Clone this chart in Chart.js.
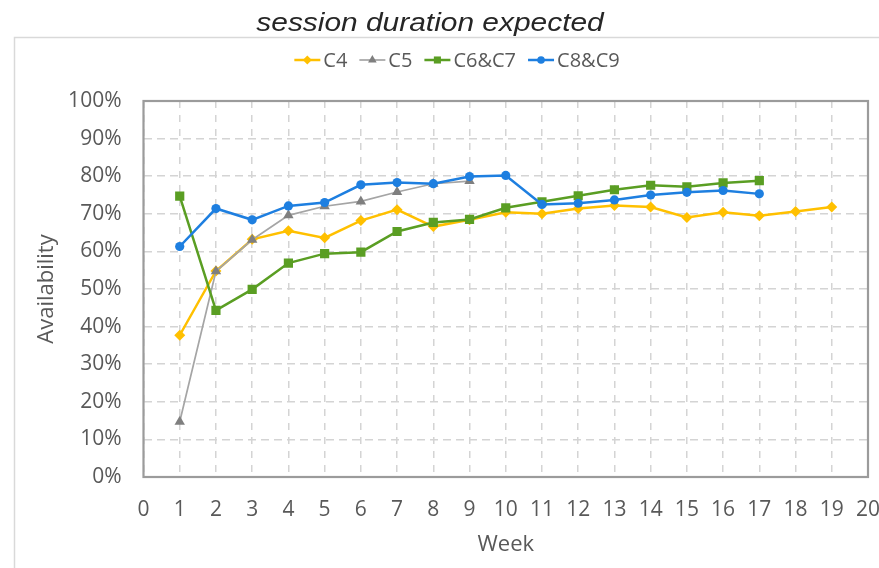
<!DOCTYPE html>
<html>
<head>
<meta charset="utf-8">
<script src="https://cdn.jsdelivr.net/npm/chart.js@4.4.1/dist/chart.umd.min.js"></script>
<style>
  html, body { margin: 0; padding: 0; background: #fff; }
  #wrap { width: 879px; height: 568px; }
</style>
</head>
<body>
<div id="wrap"><canvas id="chart" width="879" height="568"></canvas></div>
<script>
// Weekly availability per cohort (percent)
const weeks = [1, 2, 3, 4, 5, 6, 7, 8, 9, 10, 11, 12, 13, 14, 15, 16, 17, 18, 19];
const seriesNames = ['C4', 'C5', 'C6&C7', 'C8&C9'];
const c4 = [37.7, 54.8, 63.2, 65.5, 63.6, 68.2, 71.1, 66.6, 68.4, 70.4, 70.0, 71.4, 72.2, 71.8, 69.0, 70.4, 69.5, 70.6, 71.8];
const c5 = [14.7, 54.7, 63.1, 69.6, 72.0, 73.3, 75.8, 78.0, 78.7];
const c6c7 = [74.7, 44.3, 49.9, 56.9, 59.4, 59.8, 65.3, 67.7, 68.5, 71.6, 73.2, 74.8, 76.4, 77.6, 77.2, 78.2, 78.8];
const c8c9 = [61.3, 71.4, 68.4, 72.1, 73.0, 77.7, 78.3, 78.0, 79.9, 80.2, 72.5, 72.8, 73.7, 75.0, 75.7, 76.2, 75.3];
const weekRange = [0, 20];
const availabilityRange = [0, 100];
const headingText = 'session duration expected';
const xTitle = 'Week';
const yTitle = 'Availability';

const toPoints = vals => vals.map((v, i) => ({ x: weeks[i], y: v }));

const tickFont = { family: '"Open Sans", sans-serif', size: 21 };
const titleFont = { family: '"Open Sans", sans-serif', size: 22 };
const textGrey = '#595959';

const styles = [
  { line: '#FFC000', fill: '#FFC000', shape: 'rectRot', r: 5.5, lw: 2.5, lr: 4.5 },
  { line: '#A5A5A5', fill: '#7F7F7F', shape: 'triangle', r: 6, lw: 1.7, lr: 5 },
  { line: '#5A9E23', fill: '#5A9E23', shape: 'rect', r: 6.5, lw: 2.5, lr: 5 },
  { line: '#1E7FE0', fill: '#1E7FE0', shape: 'circle', r: 4.6, lw: 2.5, lr: 3.8 }
];
const values = [c4, c5, c6c7, c8c9];

const datasets = values.map((vals, i) => ({
  label: seriesNames[i],
  data: toPoints(vals),
  borderColor: styles[i].line,
  backgroundColor: styles[i].fill,
  borderWidth: styles[i].lw,
  pointStyle: styles[i].shape,
  pointRadius: styles[i].r,
  pointBackgroundColor: styles[i].fill,
  pointBorderColor: styles[i].fill,
  pointBorderWidth: 0,
  tension: 0,
  order: values.length - i
}));

// Outer frame, heading, plot border and the line-with-marker legend
const decorations = {
  id: 'decorations',
  beforeDraw(chart) {
    const ctx = chart.ctx;
    ctx.save();
    ctx.fillStyle = '#ffffff';
    ctx.fillRect(0, 0, chart.width, chart.height);
    ctx.strokeStyle = '#d9d9d9';
    ctx.lineWidth = 1.5;
    ctx.beginPath();
    ctx.moveTo(14.5, chart.height + 2);
    ctx.lineTo(14.5, 37.5);
    ctx.lineTo(chart.width + 2, 37.5);
    ctx.stroke();

    ctx.font = 'italic 26px "Liberation Sans", Arial, sans-serif';
    ctx.fillStyle = '#262626';
    ctx.textAlign = 'center';
    ctx.textBaseline = 'alphabetic';
    ctx.translate(430, 31);
    ctx.scale(1.15, 1);
    ctx.fillText(headingText, 0, 0);
    ctx.restore();
  },
  beforeDatasetsDraw(chart) {
    const { left, top, right, bottom } = chart.chartArea;
    const ctx = chart.ctx;
    ctx.save();
    ctx.strokeStyle = '#9b9b9b';
    ctx.lineWidth = 2.2;
    ctx.strokeRect(left, top, right - left, bottom - top);
    ctx.restore();
  },
  afterDraw(chart) {
    const ctx = chart.ctx;
    ctx.save();
    ctx.font = '20px "Open Sans", sans-serif';
    ctx.textBaseline = 'middle';
    ctx.textAlign = 'left';
    const lineLen = 26, gap = 3, spacing = 12;
    const widths = seriesNames.map(n => lineLen + gap + ctx.measureText(n).width);
    const total = widths.reduce((a, b) => a + b, 0) + spacing * (widths.length - 1);
    let x = 457 - total / 2;
    const y = 60;
    seriesNames.forEach((name, i) => {
      const st = styles[i];
      ctx.strokeStyle = st.line;
      ctx.lineWidth = st.lw;
      ctx.beginPath();
      ctx.moveTo(x, y);
      ctx.lineTo(x + lineLen, y);
      ctx.stroke();
      ctx.fillStyle = st.fill;
      Chart.helpers.drawPoint(ctx, { pointStyle: st.shape, radius: st.lr, rotation: 0, borderWidth: 0 }, x + lineLen / 2, y);
      ctx.fillStyle = textGrey;
      ctx.fillText(name, x + lineLen + gap, y + 1);
      x += widths[i] + spacing;
    });
    ctx.restore();
  }
};

new Chart(document.getElementById('chart'), {
  type: 'line',
  data: { datasets },
  plugins: [decorations],
  options: {
    responsive: false,
    animation: false,
    layout: { autoPadding: false, padding: { left: 14, right: 11, top: 101, bottom: 0 } },
    plugins: {
      legend: { display: false },
      title: { display: false },
      tooltip: { enabled: false }
    },
    scales: {
      x: {
        type: 'linear',
        min: weekRange[0],
        max: weekRange[1],
        afterFit: s => { s.height = 91; s.paddingLeft = 0; s.paddingRight = 0; },
        ticks: { stepSize: 1, autoSkip: false, maxRotation: 0, color: textGrey, font: tickFont, padding: 20 },
        grid: { color: '#d4d4d4', lineWidth: 1.5, drawTicks: false },
        border: { display: false, dash: [7, 7] },
        title: { display: true, text: xTitle, color: textGrey, font: titleFont, padding: { top: 0, bottom: 10 } }
      },
      y: {
        min: availabilityRange[0],
        max: availabilityRange[1],
        afterFit: s => { s.width = 129.5; s.paddingTop = 0; s.paddingBottom = 0; },
        ticks: { stepSize: 10, color: textGrey, font: tickFont, padding: 22, callback: v => v + '%' },
        grid: { color: '#d4d4d4', lineWidth: 1.5, drawTicks: false },
        border: { display: false, dash: [8, 5] },
        title: { display: true, text: yTitle, color: textGrey, font: titleFont, padding: { top: 20, bottom: 0 } }
      }
    }
  }
});
</script>
</body>
</html>
